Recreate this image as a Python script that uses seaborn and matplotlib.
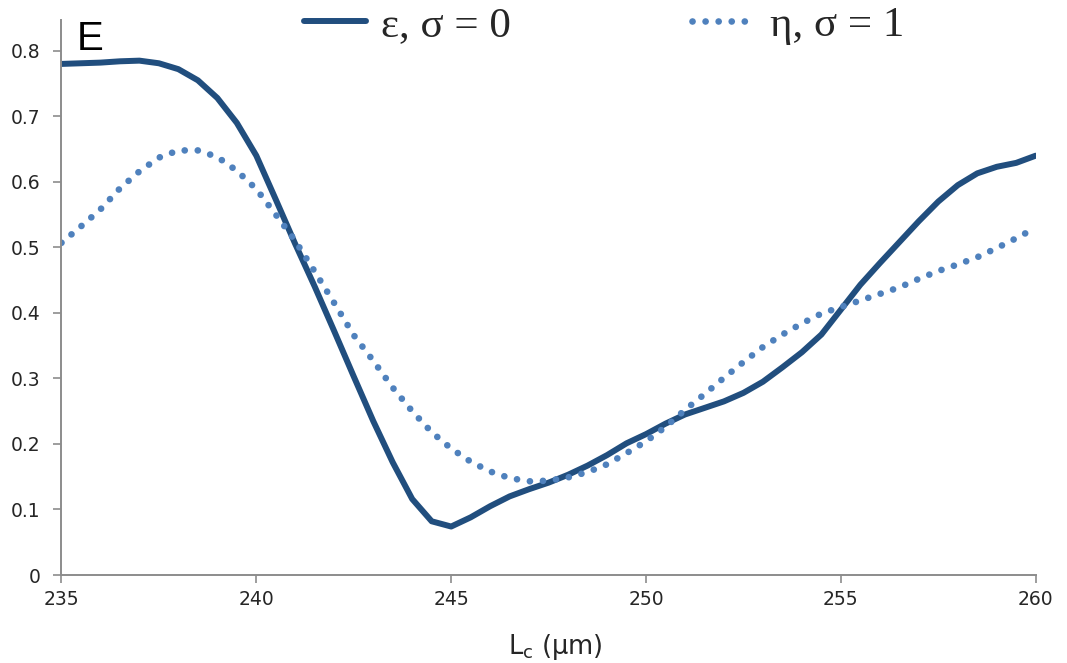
import numpy as np
import pandas as pd
import matplotlib
matplotlib.use("Agg")
import matplotlib.pyplot as plt
import seaborn as sns

# Cavity length L_c (µm), sampled every 0.5 µm
lc = np.arange(235.0, 260.01, 0.5)

# ε, σ = 0
eps = [0.780, 0.781, 0.782, 0.784, 0.785, 0.781, 0.772, 0.755, 0.728, 0.690,
       0.640, 0.573, 0.505, 0.440, 0.372, 0.303, 0.235, 0.172, 0.116, 0.082,
       0.074, 0.088, 0.105, 0.120, 0.131, 0.141, 0.153, 0.167, 0.183, 0.201,
       0.215, 0.231, 0.245, 0.255, 0.265, 0.278, 0.295, 0.317, 0.340, 0.367,
       0.405, 0.443, 0.476, 0.508, 0.540, 0.570, 0.595, 0.613, 0.623, 0.629,
       0.640]

# η, σ = 1
eta = [0.507, 0.532, 0.558, 0.590, 0.616, 0.637, 0.648, 0.648, 0.638, 0.617,
       0.589, 0.550, 0.510, 0.463, 0.415, 0.366, 0.327, 0.286, 0.250, 0.218,
       0.193, 0.173, 0.158, 0.148, 0.143, 0.144, 0.149, 0.157, 0.169, 0.186,
       0.204, 0.226, 0.252, 0.276, 0.301, 0.325, 0.348, 0.367, 0.384, 0.399,
       0.409, 0.419, 0.429, 0.439, 0.452, 0.464, 0.474, 0.485, 0.499, 0.514,
       0.530]

x_ticks = [235, 240, 245, 250, 255, 260]
y_ticks = [0, 0.1, 0.2, 0.3, 0.4, 0.5, 0.6, 0.7, 0.8]
y_tick_labels = ["0", "0.1", "0.2", "0.3", "0.4", "0.5", "0.6", "0.7", "0.8"]

sns.set_style("ticks")
plt.rcParams["font.family"] = ["DejaVu Sans"]
plt.rcParams["mathtext.fontset"] = "dejavusans"

df = pd.DataFrame({"lc": lc, "eps": eps, "eta": eta})

fig = plt.figure(figsize=(10.67, 6.63), dpi=100)
ax = fig.add_axes([0.0576, 0.1327, 0.9131, 0.8371])

dark = "#214E7E"
light = "#4F81BD"

sns.lineplot(data=df, x="lc", y="eps", ax=ax, color=dark, linewidth=4.3,
             solid_capstyle="round", solid_joinstyle="round",
             label="ε, σ = 0")
sns.lineplot(data=df, x="lc", y="eta", ax=ax, color=light, linewidth=4.8,
             linestyle=(0, (0.01, 1.95)), dash_capstyle="round",
             label="η, σ = 1")

ax.set_xlim(235, 260)
ax.set_ylim(0, 0.847)
ax.set_xticks(x_ticks)
ax.set_xticklabels([str(t) for t in x_ticks])
ax.set_yticks(y_ticks)
ax.set_yticklabels(y_tick_labels)

for side in ("top", "right"):
    ax.spines[side].set_visible(False)
for side in ("left", "bottom"):
    ax.spines[side].set_color("#8C8C8C")
    ax.spines[side].set_linewidth(1.4)

ax.tick_params(axis="both", colors="#8C8C8C", length=6, width=1.2,
               labelsize=13.5, labelcolor="#262626")
ax.tick_params(axis="y", pad=9)
ax.tick_params(axis="x", pad=5)

ax.set_xlabel("L$_\\mathregular{c}$ (µm)", fontsize=18.5, color="#262626")
ax.xaxis.set_label_coords(0.507, -0.103)
ax.set_ylabel("")

ax.get_legend().remove()
handles, labels = ax.get_legend_handles_labels()
fig.legend(handles, labels, loc="center", bbox_to_anchor=(0.566, 0.961),
           ncol=2, frameon=False, borderpad=0, handlelength=1.45,
           handletextpad=0.35, columnspacing=4.2,
           prop={"family": "Liberation Serif", "size": 31})

fig.text(77 / 1067, 1 - 50 / 663, "E", fontsize=29,
         family="Liberation Sans", va="baseline", ha="left", color="black")

fig.savefig("out.png", dpi=100)
